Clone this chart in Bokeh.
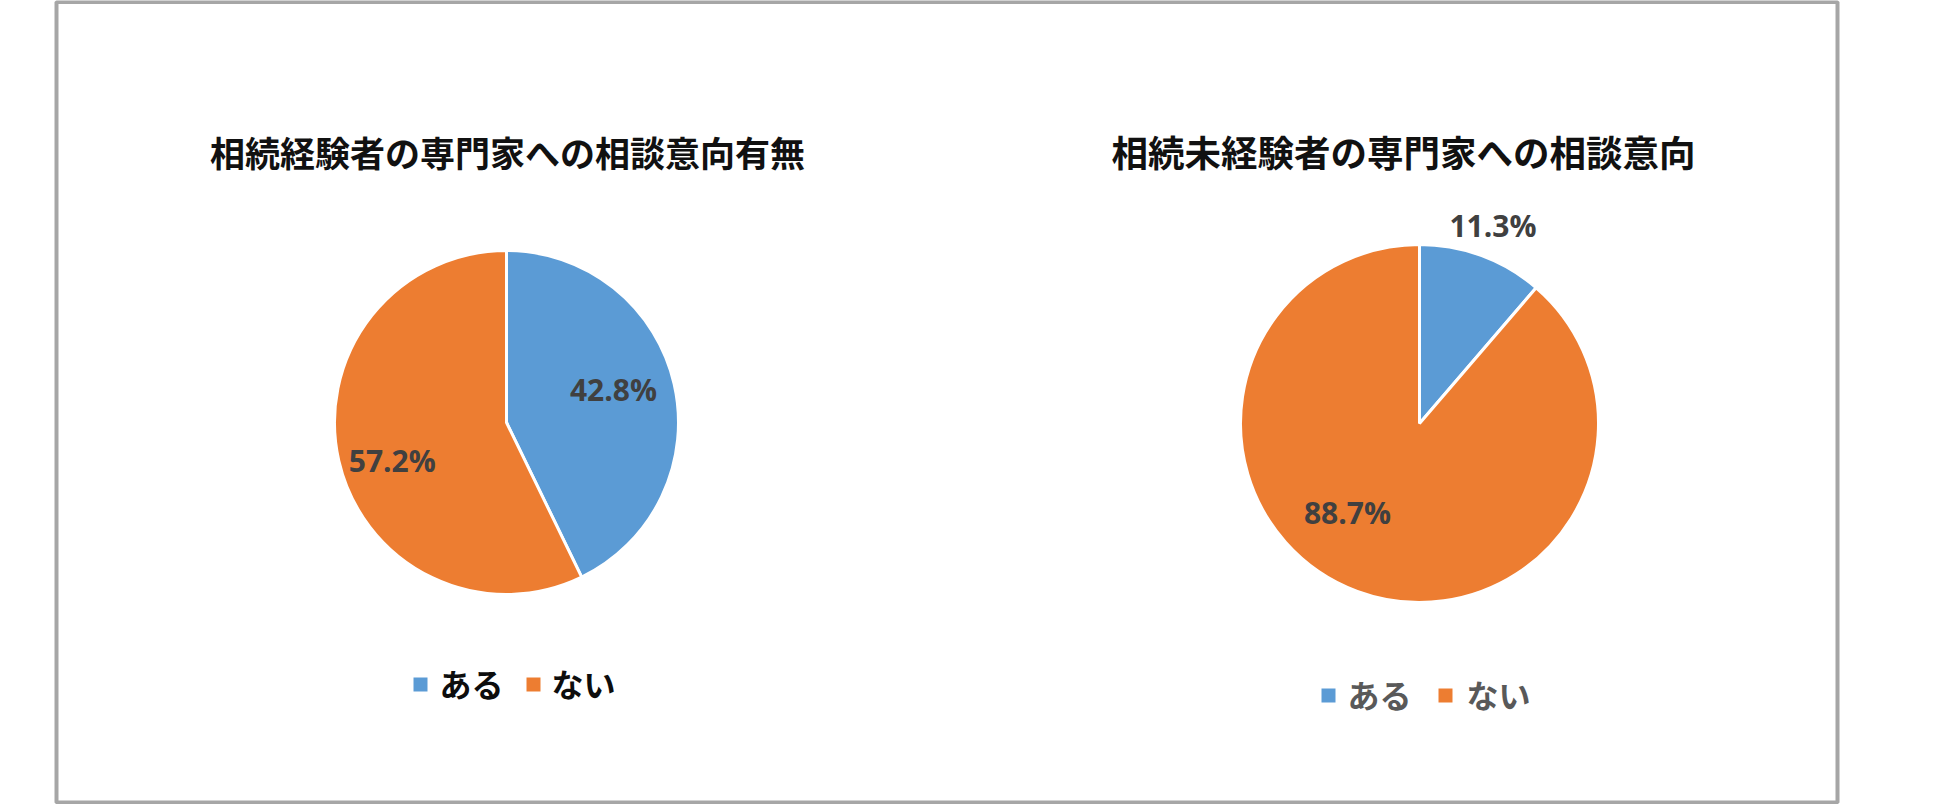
import math
from bokeh.plotting import figure
from bokeh.models import Range1d, ColumnDataSource
from bokeh.core.properties import value
from bokeh.embed import file_html
from bokeh.resources import INLINE

# ---- data ----
categories = ["ある", "ない"]
titles = ["相続経験者の専門家への相談意向有無", "相続未経験者の専門家への相談意向"]
values_left = [42.8, 57.2]
values_right = [11.3, 88.7]
colors = ["#5B9BD5", "#ED7D31"]

# ---- layout (page pixel coordinates of the reference) ----
W, H = 1940, 804
def dx(sx):
    return sx
def dy(sy):
    return H - sy

pies = [
    dict(values=values_left, title=titles[0], cx=506, cy=422, r=172,
         title_pos=(507, 151), title_size="35px",
         label_polar=[(17, 0.65), (-161.6, 0.70)],   # None -> slice mid-angle
         legend_y=684, legend_sq=[420, 533], legend_tx=[439, 551],
         legend_color="#0d0d0d"),
    dict(values=values_right, title=titles[1], cx=1419, cy=423, r=179,
         title_pos=(1403, 151), title_size="36.5px",
         label_polar=[(None, 1.18), (-129, 0.64)],
         legend_y=695, legend_sq=[1328, 1445], legend_tx=[1347, 1466],
         legend_color="#595959"),
]

p = figure(width=W, height=H, output_backend="svg", toolbar_location=None,
           x_range=Range1d(0, W), y_range=Range1d(0, H),
           min_border=0, outline_line_color=None)
p.xaxis.visible = False
p.yaxis.visible = False
p.grid.visible = False
p.background_fill_color = "white"
p.border_fill_color = "white"

# outer frame of the chart area
p.quad(left=[dx(56)], right=[dx(1837)], bottom=[dy(802)], top=[dy(1.5)],
       fill_color=None, line_color="#A6A6A6", line_width=4)

for pie in pies:
    vals = pie["values"]
    total = sum(vals)
    starts, ends, mids = [], [], []
    a = math.pi / 2
    for v in vals:
        sweep = v / total * 2 * math.pi
        starts.append(a - sweep)
        ends.append(a)
        mids.append(a - sweep / 2)
        a -= sweep
    src = ColumnDataSource(dict(
        x=[dx(pie["cx"])] * len(vals), y=[dy(pie["cy"])] * len(vals),
        start=starts, end=ends, color=colors[:len(vals)]))
    p.wedge(x="x", y="y", radius=pie["r"], start_angle="start", end_angle="end",
            fill_color="color", line_color="white", line_width=3, source=src)

    # percentage labels
    lx, ly, lt = [], [], []
    for i, v in enumerate(vals):
        ang, frac = pie["label_polar"][i]
        th = mids[i] if ang is None else math.radians(ang)
        lx.append(dx(pie["cx"]) + frac * pie["r"] * math.cos(th))
        ly.append(dy(pie["cy"]) + frac * pie["r"] * math.sin(th))
        lt.append(f"{v:.1f}%")
    p.text(x=lx, y=ly, text=lt, text_align="center", text_baseline="middle",
           text_font=value("Open Sans"), text_font_style="bold",
           text_font_size="30px", text_color="#404040")

    # title
    tx, ty = pie["title_pos"]
    p.text(x=[dx(tx)], y=[dy(ty)], text=[pie["title"]], text_align="center",
           text_baseline="middle", text_font=value("Noto Sans CJK JP"),
           text_font_style="bold", text_font_size=pie["title_size"],
           text_color="#111111")

    # legend
    p.scatter(x=[dx(s) for s in pie["legend_sq"]], y=[dy(pie["legend_y"])] * 2,
              marker="square", size=14, fill_color=colors, line_color=None)
    p.text(x=[dx(t) for t in pie["legend_tx"]], y=[dy(pie["legend_y"] - 2)] * 2,
           text=categories, text_align="left", text_baseline="middle",
           text_font=value("Noto Sans CJK JP"), text_font_style="bold",
           text_font_size="32px", text_color=pie["legend_color"])

open("out.html", "w").write(file_html(p, INLINE))
